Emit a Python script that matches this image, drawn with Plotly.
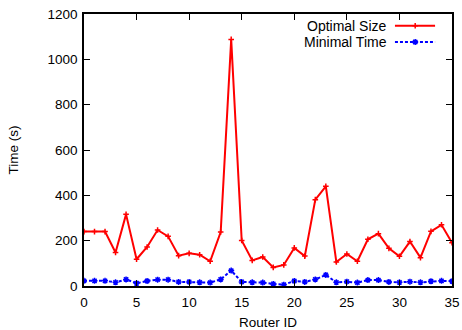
import plotly.graph_objects as go

router_id = list(range(36))
optimal_size = [240, 240, 240, 148, 316, 118, 172, 247, 219, 134, 144, 138, 109, 238, 1088,
                201, 113, 128, 82, 93, 168, 132, 381, 440, 106, 141, 109, 206, 231, 166,
                131, 196, 125, 241, 270, 191]
minimal_time = [23, 23, 23, 16, 29, 12, 22, 28, 28, 18, 18, 16, 15, 29, 68,
                18, 16, 15, 9, 6, 22, 18, 29, 49, 16, 19, 15, 26, 26, 18,
                16, 19, 16, 21, 23, 21]
series_names = ["Optimal Size", "Minimal Time"]
x_ticks = [0, 5, 10, 15, 20, 25, 30, 35]
y_ticks = [0, 200, 400, 600, 800, 1000, 1200]

RED = "#ff0000"
BLUE = "#0000ff"
FONT = "Liberation Sans, Arial, sans-serif"
red_marker = dict(symbol="cross-thin", size=4, color=RED, line=dict(color=RED, width=1.5))
blue_marker = dict(symbol="asterisk-open", size=5, color=BLUE, line=dict(color=BLUE, width=1.5))
blue_dash = "3px,2px"

fig = go.Figure()
fig.add_trace(go.Scatter(x=router_id, y=optimal_size, mode="lines+markers",
                         line=dict(color=RED, width=2), marker=red_marker,
                         showlegend=False))
fig.add_trace(go.Scatter(x=router_id, y=minimal_time, mode="lines+markers",
                         line=dict(color=BLUE, width=2, dash=blue_dash), marker=blue_marker,
                         showlegend=False))

# gnuplot-style legend samples (text left, sample right) on an overlay axis
legend_y = [0.957, 0.897]
legend_lines = [dict(color=RED, width=2), dict(color=BLUE, width=2, dash=blue_dash)]
legend_markers = [red_marker, blue_marker]
for name, yy, ln, mk in zip(series_names, legend_y, legend_lines, legend_markers):
    fig.add_trace(go.Scatter(x=[0.845, 0.954], y=[yy, yy], mode="lines", line=ln,
                             xaxis="x2", yaxis="y2", showlegend=False, hoverinfo="skip"))
    fig.add_trace(go.Scatter(x=[0.9], y=[yy], mode="markers", marker=mk,
                             xaxis="x2", yaxis="y2", showlegend=False, hoverinfo="skip"))
    fig.add_annotation(x=0.823, y=yy, xref="x2", yref="y2", text=name, showarrow=False,
                       xanchor="right", yanchor="middle", xshift=2,
                       font=dict(family=FONT, size=14, color="black"))

axis_common = dict(showline=True, linecolor="black", linewidth=1.5, mirror="allticks",
                   ticks="inside", ticklen=6, tickcolor="black", tickwidth=1,
                   showgrid=False, zeroline=False, automargin=False,
                   tickfont=dict(family=FONT, size=13.5, color="black"))
fig.update_layout(
    width=462, height=330,
    margin=dict(l=84, r=10, t=14, b=44),
    plot_bgcolor="white", paper_bgcolor="white",
    xaxis=dict(range=[0, 35], tickvals=x_ticks, ticklabelstandoff=3,
               title=dict(text="Router ID", font=dict(family=FONT, size=13.5, color="black"), standoff=10),
               **axis_common),
    yaxis=dict(range=[0, 1200], tickvals=y_ticks, ticklabelstandoff=2,
               title=dict(text="Time (s)", font=dict(family=FONT, size=13.5, color="black"), standoff=26),
               **axis_common),
    xaxis2=dict(range=[0, 1], overlaying="x", visible=False, fixedrange=True),
    yaxis2=dict(range=[0, 1], overlaying="y", visible=False, fixedrange=True),
    showlegend=False,
)

fig.write_html("out.html")
